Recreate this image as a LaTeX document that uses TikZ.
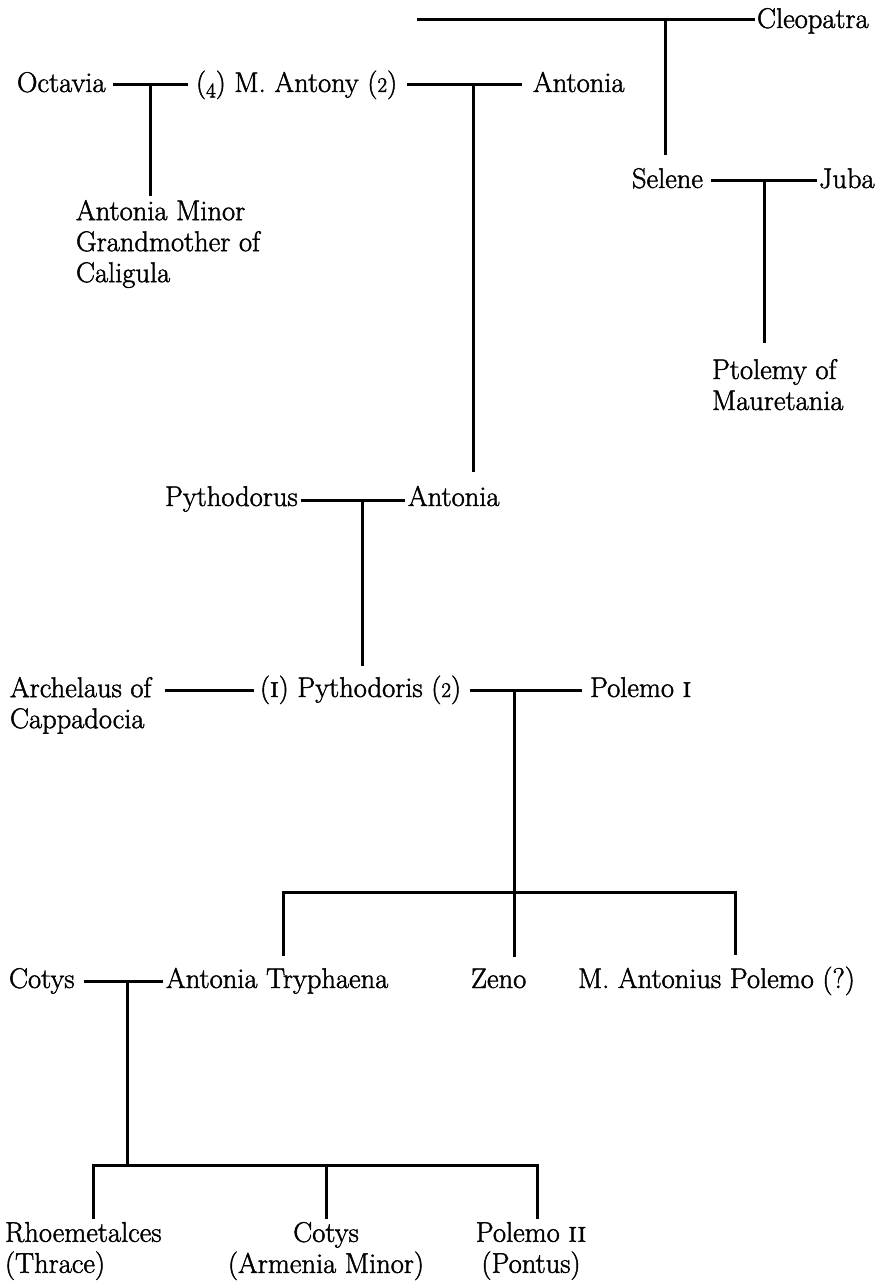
\documentclass[tikz,border=0pt]{standalone}
\newcommand{\heavytext}{\special{pdf:literal direct 2 Tr 0.45 w}}
\newcommand{\osn}[1]{{\fontsize{21}{31}\selectfont #1}}
\newcommand{\osnd}[1]{\raisebox{-5.5pt}{\fontsize{21}{31}\selectfont #1}}
\begin{document}
\begin{tikzpicture}[x=1pt,y=-1pt,
  every node/.style={inner sep=0pt,outer sep=0pt,font=\fontsize{28.5}{31}\selectfont\heavytext},
  person/.style={anchor=base west},
  multi/.style={anchor=north west,align=left},
  multic/.style={anchor=north,align=center},
  rel/.style={line width=3pt,line join=miter}]
\useasboundingbox (0,0) rectangle (882,1284);
% people
\node[person] (cleo) at (757,28) {Cleopatra};
\coordinate (ctl) at (417,20);
\node[person] (oct) at (17,92) {Octavia};
\node[person] (mant) at (196,92) {(\osnd{4}) M. Antony (\osn{2})};
\node[person] (anta) at (533,92) {Antonia};
\node[person] (sel) at (632,188) {Selene};
\node[person] (juba) at (819,188) {Juba};
\node[multi] (amin) at (76,200) {Antonia Minor\\Grandmother of\\Caligula};
\node[multi] (ptol) at (712,359) {Ptolemy of\\Mauretania};
\node[person] (pyth) at (165,506) {Pythodorus};
\node[person] (antb) at (408,506) {Antonia};
\node[multi] (arch) at (10,677) {Archelaus of\\Cappadocia};
\node[person] (pyda) at (260,697) {(\textsc{i}) Pythodoris (\osn{2})};
\node[person] (pol1) at (590,697) {Polemo \textsc{i}};
\node[person] (cot1) at (9,988) {Cotys};
\node[person] (tryph) at (166,988) {Antonia Tryphaena};
\node[person] (zeno) at (471,988) {Zeno};
\node[person] (mapol) at (578,988) {M. Antonius Polemo (?)};
\node[multi] (rhoe) at (5,1222) {Rhoemetalces\\(Thrace)};
\node[multic] (cot2) at (326,1222) {Cotys\\(Armenia Minor)};
\node[multic] (pol2) at (531,1222) {Polemo \textsc{ii}\\(Pontus)};
% junction points
\coordinate (jc) at (665,20);
\coordinate (m1) at (150,85);
\coordinate (m2) at (473,85);
\coordinate (m3) at (764,181);
\coordinate (m4) at (362,500);
\coordinate (m6) at (514,690);
\coordinate (m7) at (127,981);
\coordinate (b1) at (283,892);
\coordinate (b3) at (735,892);
\coordinate (d1) at (93,1165);
\coordinate (d2) at (326,1165);
\coordinate (d3) at (537,1165);
% marriages
\draw[rel] (ctl) -- ([xshift=-2pt,yshift=8pt]cleo.base west);
\draw[rel] ([xshift=7pt,yshift=7pt]oct.base east) -- ([xshift=-8pt,yshift=7pt]mant.base west);
\draw[rel] ([xshift=10pt,yshift=7pt]mant.base east) -- ([xshift=-11pt,yshift=7pt]anta.base west);
\draw[rel] ([xshift=8pt,yshift=7pt]sel.base east) -- ([xshift=-2pt,yshift=7pt]juba.base west);
\draw[rel] ([xshift=3pt,yshift=6pt]pyth.base east) -- ([xshift=-3pt,yshift=6pt]antb.base west);
\draw[rel] ([xshift=14pt,yshift=7pt]arch.east |- pyda.base) -- ([xshift=-6pt,yshift=7pt]pyda.base west);
\draw[rel] ([xshift=9pt,yshift=7pt]pyda.base east) -- ([xshift=-8pt,yshift=7pt]pol1.base west);
\draw[rel] ([xshift=9pt,yshift=7pt]cot1.base east) -- ([xshift=-3pt,yshift=7pt]tryph.base west);
% descents
\draw[rel,shorten >=13pt] (jc) -- (jc |- sel.north);
\draw[rel,shorten >=4pt] (m1) -- (m1 |- amin.north);
\draw[rel,shorten >=14pt] (m2) -- (m2 |- antb.north);
\draw[rel,shorten >=16pt] (m3) -- (m3 |- ptol.north);
\draw[rel,shorten >=10pt] (m4) -- (m4 |- pyda.north);
\draw[rel,shorten >=12pt] (m6) -- (m6 |- zeno.north);
\draw[rel,shorten <=12pt,shorten >=12pt] (b1 |- tryph.north) -- (b1) -- (b3) -- (b3 |- mapol.north);
\draw[rel] (m7) -- (m7 |- d1);
\draw[rel,shorten <=3pt,shorten >=3pt] (d1 |- rhoe.north) -- (d1) -- (d3) -- (d3 |- pol2.north);
\draw[rel,shorten >=3pt] (d2) -- (d2 |- cot2.north);
\end{tikzpicture}
\end{document}
